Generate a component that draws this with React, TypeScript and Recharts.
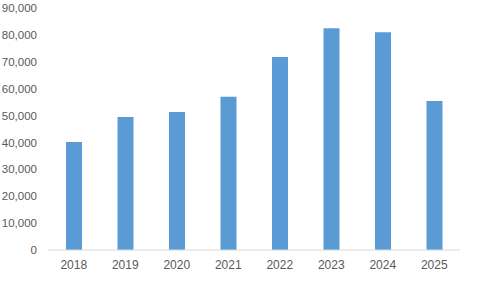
import React from "react";
import { BarChart, Bar, XAxis, YAxis } from "recharts";

const years = ["2018", "2019", "2020", "2021", "2022", "2023", "2024", "2025"];
const values = [40200, 49500, 51300, 57000, 71800, 82500, 81000, 55400];
const yTicks = [0, 10000, 20000, 30000, 40000, 50000, 60000, 70000, 80000, 90000];

const data = years.map((y, i) => ({ year: y, value: values[i] }));

const fmt = (v: number) => v.toLocaleString("en-US");

export default function App() {
  return (
    <div style={{ position: "absolute", left: 0, top: 0, width: 478, height: 285, background: "#fff" }}>
      <BarChart width={478} height={285} data={data} margin={{ top: 8, right: 18, bottom: 15, left: 0 }}>
        <XAxis
          dataKey="year"
          axisLine={{ stroke: "#D9D9D9" }}
          tickLine={false}
          tickSize={0}
          tickMargin={10}
          height={20}
          tick={{ fill: "#595959", fontSize: 12, fontFamily: "Liberation Sans" }}
        />
        <YAxis
          domain={[0, 90000]}
          ticks={yTicks}
          tickFormatter={fmt}
          axisLine={false}
          tickLine={false}
          tickSize={0}
          tickMargin={11}
          width={48}
          interval={0}
          tick={{ fill: "#595959", fontSize: 11.5, fontFamily: "Liberation Sans" }}
        />
        <Bar dataKey="value" fill="#5B9BD5" barSize={16} isAnimationActive={false} />
      </BarChart>
    </div>
  );
}
